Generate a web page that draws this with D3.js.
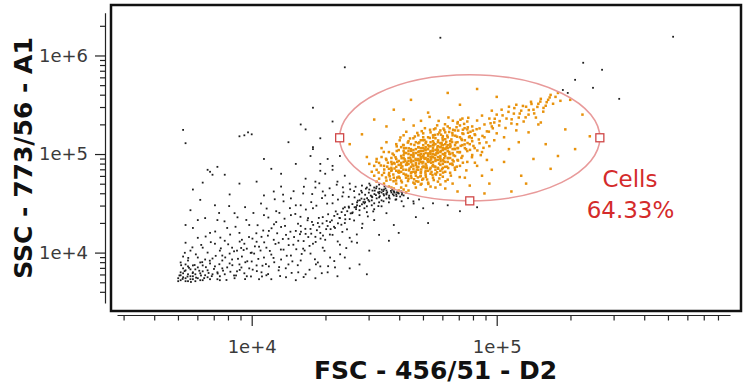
<!DOCTYPE html>
<html><head><meta charset="utf-8">
<script src="https://cdn.jsdelivr.net/npm/d3@7"></script>
<style>body{margin:0;background:#fff}svg{display:block}</style>
</head><body>
<svg id="c" width="745" height="390"></svg>
<script>
// ---------- labels & ticks ----------
const xTitle = "FSC - 456/51 - D2";
const yTitle = "SSC - 773/56 - A1";
const xMajorTicks = [1e4, 1e5];
const xTickLabels = ["1e+4", "1e+5"];
const yMajorTicks = [1e4, 1e5, 1e6];
const yTickLabels = ["1e+4", "1e+5", "1e+6"];
// axis ranges (log10 units)
const xDomainLog = [3.4502, 5.9522];
const yDomainLog = [3.4886, 6.434];
// gate (ellipse in log10 units)
const gateName = "Cells";
const gatePercent = "64.33%";
const gateCenterLog = [4.89, 5.165];
const gateRadiiLog = [0.531, 0.64];

// ---------- events: [log10 FSC, log10 SSC] ----------
const eventsLowCluster = [[3.71,3.72],[3.72,3.75],[3.73,3.71],[3.71,3.80],[3.74,3.78],[3.75,3.73],[3.76,3.76],[3.72,3.84],[3.73,3.88],[3.77,3.71],[3.78,3.74],[3.79,3.79],[3.75,3.83],[3.76,3.87],[3.74,3.92],[3.80,3.72],[3.81,3.77],[3.82,3.82],[3.78,3.85],[3.79,3.90],[3.83,3.73],[3.84,3.78],[3.85,3.86],[3.81,3.93],[3.72,3.96],[3.70,3.74],[3.71,3.77],[3.73,3.74],[3.74,3.71],[3.76,3.80],[3.77,3.83],[3.72,3.79],[3.70,3.71],[3.75,3.76],[3.77,3.78],[3.79,3.72],[3.80,3.81],[3.82,3.75],[3.83,3.89],[3.86,3.80],[3.74,3.86],[3.78,3.95],[3.71,3.90],[3.76,3.73],[3.73,3.82],[3.80,3.87],[3.84,3.94],[3.86,3.73],[3.87,3.76],[3.88,3.84]];
const eventsBandLeft = [[3.87,3.72],[3.89,3.78],[3.90,3.85],[3.88,3.92],[3.91,3.99],[3.92,4.05],[3.89,4.12],[3.93,3.74],[3.94,3.81],[3.95,3.88],[3.96,3.96],[3.94,4.02],[3.97,4.09],[3.95,4.20],[3.98,3.76],[3.99,3.84],[4.00,3.91],[4.01,3.99],[3.98,4.04],[4.02,4.11],[3.99,4.28],[4.03,3.73],[4.04,3.80],[4.05,3.95],[4.03,4.06],[4.04,4.16],[3.90,4.25],[3.86,4.33],[3.93,4.40],[3.88,3.97],[3.91,3.89],[3.97,3.79],[4.00,4.00],[4.02,3.87],[3.96,4.13],[3.92,3.93],[3.87,4.02],[3.85,4.09],[3.82,4.00],[3.80,4.05],[3.78,4.15],[3.83,4.20],[3.76,4.25],[3.81,4.35],[3.75,4.02],[3.73,4.10]];
const eventsUpperLeft = [[3.72,5.245],[3.73,5.11],[3.82,4.84],[3.84,4.79],[3.86,4.87],[3.95,5.18],[3.97,5.19],[3.985,5.22],[4.00,5.20],[3.80,4.71],[3.76,4.64],[3.83,4.82],[3.89,4.79],[3.79,4.535],[3.85,4.48],[3.91,4.59],[3.75,4.43],[3.78,4.33],[3.73,4.28],[4.05,4.58],[4.12,4.67],[4.16,4.55],[3.95,4.70],[4.08,4.85],[4.20,4.48]];
const eventsBandMid = [[4.06,3.77],[4.07,3.86],[4.08,3.98],[4.06,4.05],[4.09,4.13],[4.07,4.22],[4.10,4.31],[4.11,3.82],[4.12,3.93],[4.13,4.03],[4.11,4.10],[4.14,4.18],[4.12,4.26],[4.15,3.88],[4.16,3.97],[4.17,4.08],[4.15,4.14],[4.18,4.22],[4.16,4.38],[4.19,3.80],[4.20,3.92],[4.21,4.04],[4.19,4.12],[4.22,4.19],[4.20,4.27],[4.23,4.35],[4.24,3.99],[4.25,4.09],[4.26,4.16],[4.24,4.24],[4.27,4.30],[4.25,4.45],[4.28,3.86],[4.29,4.05],[4.30,4.13],[4.28,4.20],[4.31,4.27],[4.29,4.36],[4.32,3.95],[4.33,4.18],[4.34,4.25],[4.32,4.31],[4.35,4.39],[4.33,4.50],[4.36,4.08],[4.37,4.21],[4.38,4.30],[4.36,4.35],[4.39,4.42],[4.37,4.57],[4.40,4.15],[4.40,4.34],[4.38,4.46],[4.08,3.73],[4.14,3.75],[4.18,3.72],[4.22,3.78],[4.26,3.74],[4.31,3.80],[4.35,3.76],[4.27,3.90],[4.10,4.42],[4.13,4.52],[4.18,4.48],[4.05,4.38],[4.21,4.60],[4.30,4.58],[4.26,4.66],[4.09,4.62]];
const eventsBandRight = [[4.41,4.40],[4.42,4.46],[4.43,4.51],[4.44,4.43],[4.45,4.49],[4.46,4.54],[4.47,4.47],[4.48,4.52],[4.49,4.57],[4.50,4.50],[4.51,4.55],[4.52,4.60],[4.53,4.53],[4.54,4.58],[4.55,4.63],[4.56,4.56],[4.57,4.61],[4.58,4.65],[4.59,4.59],[4.60,4.63],[4.61,4.66],[4.62,4.64],[4.44,4.38],[4.47,4.41],[4.50,4.44],[4.53,4.47],[4.56,4.51],[4.59,4.54],[4.62,4.58],[4.42,4.56],[4.45,4.61],[4.48,4.64],[4.51,4.67],[4.54,4.70],[4.46,4.50],[4.49,4.53],[4.52,4.56],[4.55,4.59],[4.58,4.62],[4.43,4.48],[4.57,4.66],[4.60,4.60],[4.61,4.62],[4.63,4.61],[4.64,4.63],[4.55,4.55],[4.52,4.51],[4.58,4.58],[4.49,4.48],[4.46,4.45],[4.48,4.70],[4.50,4.66],[4.52,4.69],[4.54,4.64],[4.56,4.67],[4.58,4.62],[4.53,4.61],[4.51,4.72],[4.47,4.66],[4.55,4.60]];
const eventsBandExtra = [[3.705,3.768],[3.718,3.733],[3.726,3.812],[3.738,3.757],[3.744,3.846],[3.752,3.702],[3.759,3.792],[3.767,3.874],[3.773,3.746],[3.786,3.816],[3.793,3.768],[3.798,3.903],[3.806,3.741],[3.813,3.852],[3.824,3.793],[3.829,3.918],[3.837,3.761],[3.846,3.834],[3.853,3.967],[3.861,3.788],[3.868,3.882],[3.874,4.043],[3.883,3.817],[3.892,3.951],[3.897,3.722],[3.904,4.084],[3.913,3.806],[3.921,3.872],[3.928,4.013],[3.936,3.768],[3.944,3.937],[3.951,4.112],[3.958,3.849],[3.967,4.026],[3.973,3.731],[3.982,3.912],[3.989,4.158],[3.996,3.997],[4.004,3.827],[4.013,4.063],[4.019,4.196],[4.027,3.936],[4.036,4.021],[4.042,3.758],[4.051,4.104],[4.058,3.883],[4.066,4.172],[4.074,4.017],[4.081,4.247],[4.089,3.946],[4.097,4.088],[4.104,4.196],[4.112,3.853],[4.119,4.031],[4.127,4.138],[4.136,4.271],[4.143,3.968],[4.151,4.076],[4.158,4.212],[4.166,3.911],[4.173,4.158],[4.182,4.034],[4.189,4.293],[4.197,4.187],[4.204,3.986],[4.212,4.117],[4.219,4.241],[4.228,4.328],[4.236,4.068],[4.243,4.192],[4.251,4.281],[4.258,3.932],[4.266,4.227],[4.274,4.352],[4.281,4.142],[4.289,4.296],[4.297,4.018],[4.304,4.238],[4.312,4.389],[4.319,4.183],[4.327,4.327],[4.336,4.262],[4.343,4.418],[4.351,4.113],[4.358,4.352],[4.366,4.283],[4.373,4.447],[4.381,4.381],[4.389,4.236],[4.396,4.467],[4.404,4.398],[4.411,4.492],[4.418,4.326],[4.426,4.441],[4.433,4.527],[4.441,4.472],[4.448,4.548],[4.456,4.513],[4.463,4.587],[4.471,4.552],[4.478,4.608],[4.486,4.578],[4.493,4.629],[4.501,4.594],[4.508,4.652],[4.516,4.611],[4.523,4.572],[4.531,4.638],[4.538,4.594],[4.546,4.651],[4.553,4.612],[4.561,4.578],[4.568,4.626],[4.576,4.592],[4.583,4.609],[4.591,4.573],[4.598,4.604],[4.606,4.568],[4.613,4.589],[4.463,4.512],[4.476,4.534],[4.492,4.562],[4.507,4.583],[4.522,4.617],[4.537,4.624],[4.426,4.462],[4.441,4.531],[4.412,4.408],[4.397,4.456],[4.382,4.338],[4.367,4.411],[4.352,4.297],[4.337,4.372],[4.322,4.238],[4.306,4.321],[4.291,4.173],[4.276,4.262],[4.261,4.108],[4.246,4.311],[4.231,4.158],[4.216,4.021],[4.201,4.212]];
const eventsBandWide = [[3.912,4.183],[3.934,4.262],[3.957,4.047],[3.978,4.331],[4.003,4.142],[4.024,4.278],[4.047,4.224],[4.068,4.356],[4.091,4.287],[4.113,4.403],[4.134,4.344],[4.156,4.451],[4.178,4.392],[4.199,4.363],[4.221,4.437],[4.243,4.512],[4.264,4.476],[4.287,4.553],[4.308,4.497],[4.331,4.584],[4.352,4.538],[4.374,4.611],[4.396,4.566],[4.418,4.624],[4.439,4.591],[3.928,3.768],[3.951,3.824],[3.974,3.902],[3.997,3.758],[4.021,3.812],[4.044,3.867],[4.067,3.782],[4.092,3.902],[4.116,3.762],[4.139,3.841],[4.163,3.794],[4.188,3.872],[4.212,3.752],[4.236,3.826],[4.262,3.881],[4.286,3.791],[4.312,3.862],[4.337,3.914],[4.361,3.983],[4.386,4.046],[4.408,4.112],[4.429,4.184],[4.452,4.293],[4.474,4.367],[4.496,4.418],[4.517,4.472],[4.538,4.521],[4.563,4.548],[4.587,4.537],[4.612,4.521],[4.638,4.552],[4.661,4.498],[4.683,4.539],[3.872,4.152],[3.851,4.214],[3.833,4.106],[3.812,4.163],[3.794,4.078],[3.772,3.982],[3.758,4.053],[3.741,3.946],[3.727,3.998],[3.712,3.872],[3.889,4.317],[3.867,4.402],[3.908,4.472],[3.942,4.358],[3.973,4.461],[4.007,4.402],[4.038,4.498],[4.061,4.447],[4.094,4.541],[4.128,4.588],[4.171,4.623],[4.213,4.668],[4.247,4.594],[4.276,4.703],[4.318,4.652],[4.347,4.689],[4.372,4.662],[4.402,4.642],[4.424,4.668],[4.447,4.627],[4.466,4.649],[4.484,4.682],[4.502,4.629],[4.521,4.648],[4.542,4.671],[4.574,4.638],[4.593,4.612],[4.614,4.606]];
const eventsBelowGate = [[4.45,4.25],[4.50,4.33],[4.55,4.40],[4.58,4.28],[4.62,4.47],[4.66,4.52],[4.70,4.45],[4.74,4.50],[4.80,4.48],[4.67,4.36],[4.60,4.20],[4.52,4.18],[4.43,4.10],[4.48,4.02],[4.56,4.12],[4.72,4.30],[4.85,4.42],[4.92,4.46],[4.38,3.95],[4.44,3.88],[4.40,3.84],[4.47,3.78],[4.34,3.85]];
const eventsLeftOfGate = [[4.22,4.75],[4.28,4.83],[4.18,4.90],[4.31,4.95],[4.25,5.05],[4.35,4.72],[4.12,4.80],[4.15,5.12],[4.33,4.88],[4.05,4.95],[4.20,5.30],[4.02,4.72],[4.38,4.78],[4.40,4.70],[4.29,4.62],[4.45,4.68],[4.33,5.33],[4.22,5.25],[4.25,5.47],[4.28,5.16],[4.25,5.07],[4.24,4.98],[4.28,4.90],[4.30,4.80],[4.26,4.72],[4.33,4.84],[4.36,4.98]];
const eventsOutliers = [[4.77,6.18],[5.72,6.19],[4.38,5.88],[5.353,5.926],[5.43,5.855],[5.32,5.753],[5.393,5.672],[5.50,5.56],[5.27,5.65],[5.29,5.62]];
const eventsCore = [[4.50,4.78],[4.51,4.84],[4.52,4.91],[4.52,4.75],[4.53,4.97],[4.54,4.81],[4.54,4.88],[4.55,4.73],[4.55,4.94],[4.56,5.02],[4.56,4.79],[4.57,4.86],[4.57,4.92],[4.58,4.99],[4.58,4.76],[4.51,4.95],[4.53,5.06],[4.55,5.12],[4.57,4.83],[4.50,4.88],[4.49,4.82],[4.48,4.90],[4.47,4.97],
[4.59,4.70],[4.59,4.83],[4.59,4.95],[4.60,4.77],[4.60,4.89],[4.60,5.04],[4.61,4.73],[4.61,4.86],[4.61,4.98],[4.62,4.80],[4.62,4.92],[4.62,5.09],[4.63,4.68],[4.63,4.84],[4.63,5.01],[4.64,4.75],[4.64,4.90],[4.64,4.96],[4.64,5.13],[4.65,4.81],[4.65,4.87],[4.65,5.05],[4.66,4.71],[4.66,4.93],[4.66,4.99],[4.66,5.16],[4.61,5.07],[4.63,4.79],[4.65,4.94],[4.62,4.99],[4.60,4.83],[4.64,5.03],[4.66,4.85],[4.59,5.10],[4.62,5.19],
[4.67,4.66],[4.67,4.78],[4.67,4.89],[4.67,5.01],[4.67,5.12],[4.68,4.72],[4.68,4.84],[4.68,4.95],[4.68,5.07],[4.68,5.19],[4.69,4.69],[4.69,4.81],[4.69,4.92],[4.69,5.03],[4.69,5.14],[4.70,4.75],[4.70,4.87],[4.70,4.98],[4.70,5.09],[4.70,5.21],[4.71,4.64],[4.71,4.79],[4.71,4.90],[4.71,5.01],[4.71,5.11],[4.72,4.71],[4.72,4.83],[4.72,4.95],[4.72,5.05],[4.72,5.17],[4.73,4.67],[4.73,4.86],[4.73,4.97],[4.73,5.08],[4.73,5.22],[4.74,4.76],[4.74,4.89],[4.74,5.00],[4.74,5.13],[4.67,4.94],[4.69,5.06],[4.71,4.96],[4.72,5.00],[4.70,5.03],[4.68,4.99],[4.73,5.03],[4.66,5.04],
[4.75,4.66],[4.75,4.80],[4.75,4.93],[4.75,5.04],[4.75,5.16],[4.75,5.26],[4.76,4.72],[4.76,4.86],[4.76,4.97],[4.76,5.08],[4.76,5.20],[4.77,4.69],[4.77,4.83],[4.77,4.95],[4.77,5.02],[4.77,5.11],[4.77,5.24],[4.78,4.77],[4.78,4.90],[4.78,5.00],[4.78,5.06],[4.78,5.14],[4.79,4.65],[4.79,4.87],[4.79,4.98],[4.79,5.10],[4.79,5.22],[4.80,4.74],[4.80,4.92],[4.80,5.03],[4.80,5.17],[4.80,5.28],[4.81,4.81],[4.81,4.96],[4.81,5.07],[4.81,5.13],[4.82,4.70],[4.82,4.89],[4.82,5.01],[4.82,5.19],[4.76,5.01],[4.78,5.04],[4.80,5.09],[4.74,5.06],[4.79,5.05],
[4.61,4.91],[4.62,4.96],[4.63,4.89],[4.63,5.06],[4.64,4.93],[4.65,4.99],[4.65,5.10],[4.66,4.88],[4.66,5.01],[4.67,4.91],[4.67,5.05],[4.68,4.87],[4.68,5.02],[4.68,5.11],[4.69,4.95],[4.69,5.00],[4.70,4.92],[4.70,5.06],[4.70,5.14],[4.71,4.86],[4.71,5.04],[4.72,4.92],[4.72,4.98],[4.72,5.09],[4.73,4.94],[4.73,5.00],[4.73,5.12],[4.74,4.92],[4.74,4.97],[4.74,5.09],[4.75,4.87],[4.75,4.99],[4.75,5.10],[4.76,4.94],[4.76,5.04],[4.77,4.89],[4.77,4.98],[4.77,5.07],[4.78,4.94],[4.78,5.09],[4.79,4.92],[4.79,5.01],[4.79,5.15],[4.80,4.96],[4.80,5.06],[4.81,4.90],[4.81,5.00],[4.81,5.10],[4.82,4.94],[4.82,5.05],[4.83,4.98],[4.83,5.09],[4.84,5.02],[4.84,5.06],[4.69,4.97],[4.71,5.07],[4.74,5.03],[4.76,5.12],[4.78,4.86],[4.66,4.97],[4.64,5.00],[4.62,5.03],[4.60,4.93],[4.58,4.91],[4.57,4.96],[4.56,4.85],[4.59,4.87],[4.61,4.82],[4.63,4.76],[4.65,4.78],[4.67,4.82],[4.69,4.78],[4.71,4.83],[4.73,4.80],[4.75,4.84],[4.77,4.79],[4.79,4.82],[4.70,5.17],[4.74,5.19],[4.78,5.18]];
const eventsCoreExtra = [[4.602,4.812],[4.615,4.874],[4.627,4.931],[4.638,4.778],[4.644,4.852],[4.651,4.917],[4.659,4.983],[4.663,4.744],[4.668,4.806],[4.674,4.869],[4.679,4.938],[4.683,5.027],[4.688,4.772],[4.692,4.843],[4.697,4.906],[4.701,4.964],[4.706,5.048],[4.709,4.812],[4.713,4.881],[4.717,4.937],[4.721,5.006],[4.724,5.078],[4.728,4.846],[4.732,4.912],[4.736,4.973],[4.739,5.036],[4.743,5.112],[4.746,4.874],[4.751,4.941],[4.754,5.008],[4.758,5.067],[4.761,5.138],[4.765,4.903],[4.769,4.962],[4.772,5.031],[4.776,5.094],[4.779,5.161],[4.783,4.926],[4.787,4.992],[4.791,5.057],[4.794,5.123],[4.798,5.187],[4.802,4.958],[4.806,5.021],[4.811,5.084],[4.815,5.148],[4.819,5.214],[4.824,4.987],[4.828,5.052],[4.833,5.116],[4.838,5.176],[4.843,5.238],[4.848,5.018],[4.853,5.083],[4.858,5.142],[4.864,5.204],[4.869,5.262],[4.875,5.049],[4.881,5.112],[4.887,5.171],[4.893,5.226],[4.612,4.958],[4.623,5.012],[4.634,4.892],[4.641,5.058],[4.653,4.816],[4.664,5.092],[4.672,4.724],[4.684,5.118],[4.693,4.698],[4.705,5.142],[4.716,4.742],[4.727,5.163],[4.738,4.788],[4.748,5.194],[4.757,4.815],[4.766,5.218],[4.777,4.846],[4.786,5.243],[4.797,4.871],[4.808,5.262],[4.818,4.902],[4.829,4.862],[4.842,4.934],[4.856,4.961],[4.571,4.842],[4.583,4.903],[4.594,4.761],[4.587,4.968],[4.563,4.774],[4.579,4.724],[4.556,4.912],[4.592,5.031],[4.604,5.139],[4.618,5.092],[4.631,5.226],[4.646,5.158],[4.661,5.289],[4.676,5.214],[4.691,5.337],[4.707,5.262],[4.726,5.377],[4.744,5.251],[4.763,5.336],[4.783,5.258],[4.803,5.371],[4.822,5.246],[4.841,5.324],[4.862,5.247],[4.884,5.368],[4.903,5.238],[4.918,5.252],[4.912,5.193],[4.927,5.148],[4.905,5.082],[4.921,5.036],[4.899,4.968],[4.935,4.989],[4.911,4.912],[4.946,5.063],[4.958,5.118],[4.942,5.184],[4.968,5.227],[4.984,5.261],[4.975,5.312],[4.992,5.358],[5.012,5.334],[5.024,5.392],[5.036,5.264],[5.048,5.428],[5.061,5.352],[5.072,5.466],[5.083,5.302],[5.094,5.411],[5.107,5.488],[5.118,5.372],[5.131,5.446],[5.142,5.508],[5.153,5.412],[5.166,5.478],[5.178,5.532],[5.191,5.468],[5.204,5.526],[5.216,5.574],[4.733,4.954],[4.748,4.993],[4.702,4.998],[4.718,5.052],[4.685,4.934],[4.697,4.867],[4.758,5.026],[4.771,5.072],[4.742,5.088]];
const eventsCoreLower = [[4.532,4.786],[4.541,4.843],[4.548,4.762],[4.553,4.872],[4.561,4.808],[4.566,4.741],[4.572,4.897],[4.578,4.792],[4.583,4.853],[4.589,4.732],[4.594,4.921],[4.598,4.817],[4.604,4.758],[4.609,4.886],[4.613,4.713],[4.619,4.842],[4.624,4.948],[4.628,4.787],[4.633,4.912],[4.638,4.726],[4.642,4.834],[4.647,4.962],[4.652,4.758],[4.656,4.893],[4.661,4.821],[4.665,4.698],[4.669,4.951],[4.674,4.842],[4.678,4.763],[4.683,4.904],[4.687,4.988],[4.691,4.816],[4.696,4.739],[4.702,4.873],[4.706,4.952],[4.711,4.768],[4.715,4.858],[4.721,4.697],[4.725,4.924],[4.729,5.018],[4.734,4.818],[4.738,4.876],[4.743,4.736],[4.747,4.958],[4.752,4.792],[4.756,5.046],[4.761,4.851],[4.766,4.752],[4.771,4.928],[4.775,5.112],[4.781,4.812],[4.786,4.958],[4.791,4.724],[4.796,5.071],[4.802,4.858],[4.807,5.002],[4.813,4.781],[4.818,5.122],[4.824,4.926],[4.831,5.186],[4.837,4.872],[4.842,5.061],[4.849,4.766],[4.856,5.154],[4.862,4.912],[4.869,5.098],[4.876,4.834],[4.883,5.216],[4.891,5.042],[4.898,5.162],[4.622,5.058],[4.637,5.116],[4.651,5.032],[4.666,5.178],[4.681,5.068],[4.694,5.232],[4.712,5.124],[4.728,5.246],[4.741,5.168],[4.757,5.291],[4.773,5.196],[4.789,5.302],[4.806,5.224],[4.821,5.338],[4.836,5.272],[4.852,5.348],[4.867,5.306],[4.882,5.271],[4.575,5.004],[4.592,5.078],[4.607,5.168],[4.548,4.952],[4.539,5.021],[4.527,4.884],[4.518,4.812],[4.509,4.922]];
const eventsUpperArm = [[4.83,4.84],[4.83,5.05],[4.83,5.24],[4.84,4.94],[4.84,5.12],[4.84,4.62],[4.85,4.88],[4.85,5.02],[4.85,5.17],[4.85,5.29],[4.86,4.98],[4.86,5.09],[4.86,5.21],[4.87,4.76],[4.87,5.06],[4.87,5.14],[4.88,4.92],[4.88,5.03],[4.88,5.25],[4.88,5.33],[4.89,5.10],[4.89,5.18],[4.89,4.68],[4.90,4.99],[4.90,5.13],[4.90,5.28],[4.86,5.36],[4.84,5.31],
[4.91,5.06],[4.91,5.20],[4.92,4.88],[4.92,5.34],[4.93,5.11],[4.93,5.26],[4.94,5.02],[4.94,5.39],[4.95,5.17],[4.95,5.30],[4.96,4.94],[4.96,5.23],[4.97,5.08],[4.97,5.36],[4.98,5.28],[4.98,5.44],[4.99,5.14],[4.99,5.32],[5.00,5.21],[5.00,5.40],[4.94,4.78],[4.97,4.70],
[5.01,5.29],[5.02,5.45],[5.03,5.17],[5.04,5.36],[5.05,5.48],[5.06,5.31],[5.07,5.41],[5.08,5.24],[5.08,5.50],[5.09,5.37],[5.10,5.44],[5.05,5.05],[5.03,4.92],[5.09,5.12],
[5.11,5.33],[5.12,5.48],[5.13,5.40],[5.14,5.53],[5.15,5.45],[5.16,5.37],[5.17,5.51],[5.18,5.56],[5.19,5.43],[5.20,5.49],[5.13,5.22],[5.17,5.30],
[5.21,5.55],[5.22,5.60],[5.23,5.51],[5.24,5.58],[5.25,5.62],[5.26,5.54]];
const eventsGateSparse = [[4.45,5.20],[4.50,5.35],[4.58,5.45],[4.65,5.55],[4.72,5.42],[4.80,5.62],[4.92,5.66],[5.00,5.58],[5.15,4.95],[5.20,5.10],[5.28,5.25],[5.32,5.05],[5.22,4.85],[5.10,4.78],[5.35,5.40],[5.06,4.62],[4.95,4.60],[5.30,5.55],[4.40,5.10],[4.55,5.28],[4.62,5.35],[4.85,5.50],[5.38,5.18],[5.25,4.98],[4.98,4.84],[5.12,4.70],[5.18,5.32]];

const events = [].concat(eventsLowCluster, eventsBandLeft, eventsUpperLeft, eventsBandMid,
  eventsBandRight, eventsBandExtra, eventsBandWide, eventsBelowGate, eventsLeftOfGate, eventsOutliers,
  eventsCore, eventsCoreExtra, eventsCoreLower, eventsUpperArm, eventsGateSparse);

// ---------- drawing ----------
const svg = d3.select("#c");
const frame = {x0: 111, y0: 5, x1: 741, y1: 311};
const x = d3.scaleLog().domain(xDomainLog.map(v => 10 ** v)).range([117, 730]);
const y = d3.scaleLog().domain(yDomainLog.map(v => 10 ** v)).range([303, 12.7]);

function logTicks(dom) {
  const out = [];
  for (let k = Math.floor(dom[0]); k <= Math.ceil(dom[1]); k++)
    for (let m = 1; m < 10; m++) {
      const v = m * 10 ** k, l = Math.log10(v);
      if (l >= dom[0] - 1e-9 && l <= dom[1] + 1e-9) out.push(v);
    }
  return out;
}
const majorIndex = (list, d) => list.findIndex(t => Math.abs(Math.log10(t) - Math.log10(d)) < 1e-6);

const inGate = d => {
  const dx = (d[0] - gateCenterLog[0]) / gateRadiiLog[0];
  const dy = (d[1] - gateCenterLog[1]) / gateRadiiLog[1];
  return dx * dx + dy * dy <= 1;
};

svg.append("defs").append("clipPath").attr("id", "clip").append("rect")
  .attr("x", frame.x0).attr("y", frame.y0).attr("width", frame.x1 - frame.x0).attr("height", frame.y1 - frame.y0);

const pts = svg.append("g").attr("clip-path", "url(#clip)");
const outside = events.filter(d => !inGate(d));
const inside = events.filter(inGate);
pts.append("g").selectAll("rect").data(outside).join("rect")
  .attr("x", d => x(10 ** d[0]) - 0.9).attr("y", d => y(10 ** d[1]) - 0.9)
  .attr("width", 1.8).attr("height", 1.8).attr("fill", "#1e1e1e");
pts.append("g").selectAll("rect").data(inside).join("rect")
  .attr("x", d => x(10 ** d[0]) - 1.25).attr("y", d => y(10 ** d[1]) - 1.25)
  .attr("width", 2.5).attr("height", 2.5).attr("fill", "#e8920c");

// gate ellipse
const gcx = x(10 ** gateCenterLog[0]), gcy = y(10 ** gateCenterLog[1]);
const grx = x(10 ** (gateCenterLog[0] + gateRadiiLog[0])) - gcx;
const gry = gcy - y(10 ** (gateCenterLog[1] + gateRadiiLog[1]));
svg.append("ellipse").attr("cx", gcx).attr("cy", gcy).attr("rx", grx).attr("ry", gry)
  .attr("fill", "none").attr("stroke", "#e89a9a").attr("stroke-width", 1.6);
const handles = [
  [gateCenterLog[0] - gateRadiiLog[0], gateCenterLog[1]],
  [gateCenterLog[0] + gateRadiiLog[0], gateCenterLog[1]],
  [gateCenterLog[0], gateCenterLog[1] - gateRadiiLog[1]]
];
svg.append("g").selectAll("rect").data(handles).join("rect")
  .attr("x", d => x(10 ** d[0]) - 4).attr("y", d => y(10 ** d[1]) - 4)
  .attr("width", 8).attr("height", 8).attr("fill", "#fff")
  .attr("stroke", "#d04848").attr("stroke-width", 1.3);

svg.append("text").attr("x", 630).attr("y", 187).attr("text-anchor", "middle")
  .attr("font-family", "DejaVu Sans").attr("font-size", 23).attr("fill", "#d42b2b").text(gateName);
svg.append("text").attr("x", 630.5).attr("y", 217.5).attr("text-anchor", "middle")
  .attr("font-family", "DejaVu Sans").attr("font-size", 23).attr("fill", "#d42b2b").text(gatePercent);

// frame
svg.append("rect").attr("x", frame.x0).attr("y", frame.y0)
  .attr("width", frame.x1 - frame.x0).attr("height", frame.y1 - frame.y0)
  .attr("fill", "none").attr("stroke", "#111").attr("stroke-width", 2.5);

// axes
const gx = svg.append("g").attr("transform", "translate(0,315)")
  .call(d3.axisBottom(x).tickValues(logTicks(xDomainLog)).tickSize(11).tickSizeOuter(0).tickPadding(14)
    .tickFormat(d => { const i = majorIndex(xMajorTicks, d); return i >= 0 ? xTickLabels[i] : ""; }));
gx.selectAll(".tick").filter(d => majorIndex(xMajorTicks, d) < 0).select("line").attr("y2", 5.5);

const gy = svg.append("g").attr("transform", "translate(105,0)")
  .call(d3.axisLeft(y).tickValues(logTicks(yDomainLog)).tickSize(10).tickSizeOuter(0).tickPadding(7)
    .tickFormat(d => { const i = majorIndex(yMajorTicks, d); return i >= 0 ? yTickLabels[i] : ""; }));
gy.selectAll(".tick").filter(d => majorIndex(yMajorTicks, d) < 0).select("line").attr("x2", -5);

[gx, gy].forEach(g => {
  g.select(".domain").attr("stroke", "#222").attr("stroke-width", 1.2);
  g.selectAll(".tick line").attr("stroke", "#222").attr("stroke-width", 1.2);
  g.selectAll(".tick text").attr("font-family", "DejaVu Sans").attr("font-size", 18).attr("fill", "#3a3a3a");
});

// axis titles
svg.append("text").attr("x", 435.5).attr("y", 379).attr("text-anchor", "middle")
  .attr("font-family", "DejaVu Sans").attr("font-weight", "bold").attr("font-size", 25).attr("fill", "#111")
  .text(xTitle);
svg.append("text").attr("transform", "translate(32,158) rotate(-90)").attr("text-anchor", "middle")
  .attr("font-family", "DejaVu Sans").attr("font-weight", "bold").attr("font-size", 25).attr("fill", "#111")
  .text(yTitle);
</script>
</body></html>
